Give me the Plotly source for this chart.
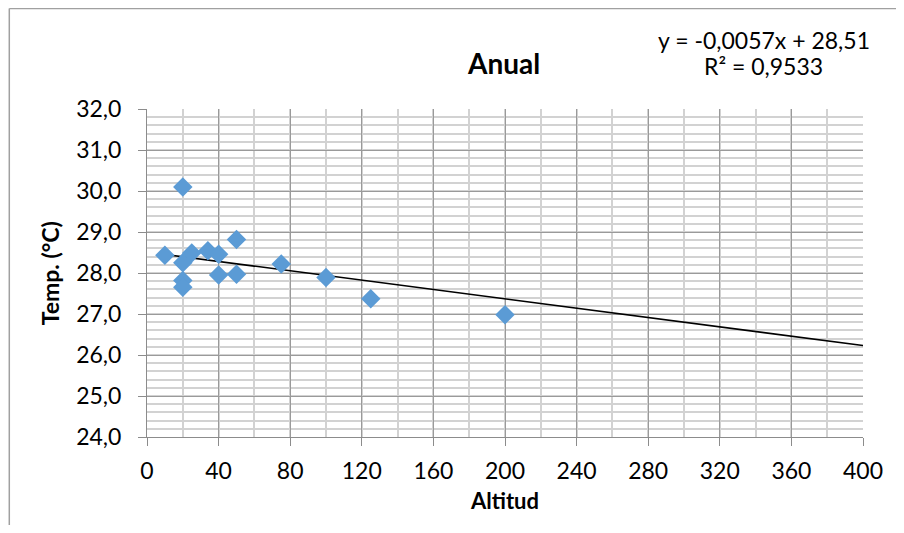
import numpy as np
import plotly.graph_objects as go

# Data
altitud = [10, 20, 20, 20, 20, 25, 34, 40, 40, 50, 50, 75, 100, 125, 200]
temp = [28.43, 30.10, 28.25, 27.82, 27.65, 28.49, 28.54, 28.46, 27.95, 28.82, 27.97, 28.22, 27.89, 27.37, 26.98]

# Linear trendline (as printed on the chart)
slope = -0.0057
intercept = 28.51
r2_text = "0,9533"
trend_x = [10, 400]
trend_y = [slope * v + intercept for v in trend_x]

x_ticks = [0, 40, 80, 120, 160, 200, 240, 280, 320, 360, 400]
y_ticks = [24, 25, 26, 27, 28, 29, 30, 31, 32]

FONT = "Lato, Carlito, Calibri, sans-serif"
OFF = 8  # page body margin
W, H = 904 - 2 * OFF, 533 - 2 * OFF
# plot area in page pixels: x 146.7..862.7, y 109.3..436.7
L = 146.7 - OFF
T = 109.3 - OFF
R = W - (862.7 - OFF)
B = H - (436.7 - OFF)

fig = go.Figure()
fig.add_trace(go.Scatter(
    x=trend_x, y=trend_y, mode="lines",
    line=dict(color="black", width=1.6), hoverinfo="skip", showlegend=False))
fig.add_trace(go.Scatter(
    x=altitud, y=temp, mode="markers",
    marker=dict(symbol="diamond", size=15, color="#5B9BD5", line=dict(width=0)),
    showlegend=False))

fig.update_layout(
    width=W, height=H,
    margin=dict(l=L, r=R, t=T, b=B, autoexpand=False),
    paper_bgcolor="white", plot_bgcolor="white",
    separators=",.",
    font=dict(family=FONT, size=23, color="black"),
    showlegend=False,
)

fig.update_xaxes(
    range=[0, 400], tickvals=x_ticks, tickformat="d",
    showgrid=True, gridcolor="#9A9A9A", gridwidth=1,
    minor=dict(dtick=20, tick0=0, showgrid=True, gridcolor="#D2D2D2", gridwidth=1.5),
    showline=True, linecolor="#8C8C8C", linewidth=1,
    ticks="outside", ticklen=8, tickcolor="#8C8C8C",
    ticklabelstandoff=5,
    zeroline=False,
    tickfont=dict(family=FONT, size=23),
)
fig.update_yaxes(
    range=[24, 32], tickvals=y_ticks, tickformat=".1f",
    showgrid=True, gridcolor="#9A9A9A", gridwidth=1,
    minor=dict(dtick=0.2, tick0=24, showgrid=True, gridcolor="#D2D2D2", gridwidth=1.5),
    showline=True, linecolor="#8C8C8C", linewidth=1,
    ticks="outside", ticklen=8, tickcolor="#8C8C8C",
    ticklabelstandoff=12,
    zeroline=False,
    tickfont=dict(family=FONT, size=23),
)

def px_x(p):
    # p in page pixels
    return (p - OFF - L) / (W - L - R)

def px_y(p):
    return (H - B - (p - OFF)) / (H - T - B)

# Title
fig.add_annotation(text="<b>Anual</b>", x=px_x(503), y=px_y(63), xref="paper", yref="paper",
                   showarrow=False, font=dict(family=FONT, size=28), xanchor="center", yanchor="middle")
# Axis titles
fig.add_annotation(text="<b>Altitud</b>", x=px_x(504), y=px_y(500), xref="paper", yref="paper",
                   showarrow=False, font=dict(family=FONT, size=22), xanchor="center", yanchor="middle")
fig.add_annotation(text="<b>Temp. (°C)</b>", x=px_x(50), y=px_y(273), xref="paper", yref="paper",
                   textangle=-90, showarrow=False, font=dict(family=FONT, size=23),
                   xanchor="center", yanchor="middle")
# Equation
eq1 = "y = -0,0057x + 28,51"
fig.add_annotation(text=eq1, x=px_x(764), y=px_y(40), xref="paper", yref="paper",
                   showarrow=False, font=dict(family=FONT, size=23), xanchor="center", yanchor="middle")
fig.add_annotation(text="R² = " + r2_text, x=px_x(763), y=px_y(66), xref="paper", yref="paper",
                   showarrow=False, font=dict(family=FONT, size=23), xanchor="center", yanchor="middle")

# Chart area border (left and top edges visible)
fig.add_shape(type="line", xref="paper", yref="paper",
              x0=px_x(9), x1=px_x(9), y0=px_y(9), y1=px_y(540),
              line=dict(color="#A0A0A0", width=1.5))
fig.add_shape(type="line", xref="paper", yref="paper",
              x0=px_x(9), x1=px_x(910), y0=px_y(9), y1=px_y(9),
              line=dict(color="#A0A0A0", width=1.5))

fig.write_html("out.html")
